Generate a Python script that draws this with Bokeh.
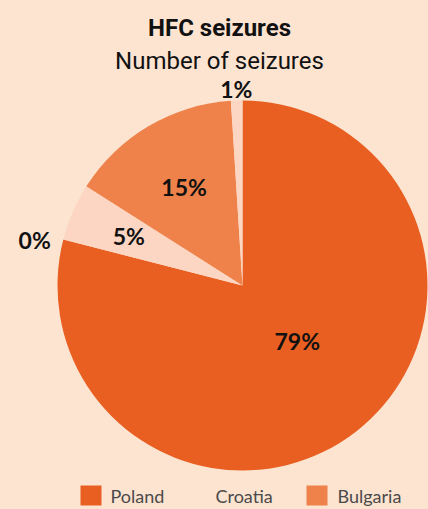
import numpy as np
from bokeh.plotting import figure
from bokeh.models import ColumnDataSource, Range1d
from bokeh.core.properties import value
from bokeh.embed import file_html
from bokeh.resources import INLINE

# ---- data ----
title = "HFC seizures"
subtitle = "Number of seizures"
slices = ["Poland", "Croatia", "Other", "Bulgaria", "Other 2"]
shares = [79, 0, 5, 15, 1]
slice_colors = ["#e85f21", "#fcd6c2", "#fcd6c2", "#ee824a", "#fcd6c2"]
legend_names = ["Poland", "Croatia", "Bulgaria"]
legend_colors = ["#e85f21", "#fde4d1", "#ee824a"]

# ---- styling / layout ----
BG = "#fde4d1"
W, H = 428, 509
LABEL_R = [0.42, 1.15, 0.67, 0.62, 1.065]
LABEL_DA = [7.0, 2.0, 0.0, 0.0, 0.0]  # degrees

def dx(xs):  # screen x -> data x
    return xs

def dy(ys):  # screen y -> data y
    return H - ys

CX, CY, R = dx(242), dy(285), 185

p = figure(width=W, height=H, output_backend="svg", toolbar_location=None,
           x_range=Range1d(0, W), y_range=Range1d(0, H), min_border=0,
           background_fill_color=BG, border_fill_color=BG, outline_line_color=None)
p.axis.visible = False
p.grid.visible = False

vals = np.array(shares, dtype=float)
frac = vals / vals.sum()
cum = np.concatenate([[0], np.cumsum(frac)])
start = np.pi / 2 - 2 * np.pi * cum[:-1]
end = np.pi / 2 - 2 * np.pi * cum[1:]
mid = (start + end) / 2 + np.radians(LABEL_DA)
lr = np.array(LABEL_R) * R

data = dict(
    name=slices, share=shares, start=start, end=end, color=slice_colors,
    lx=CX + lr * np.cos(mid), ly=CY + lr * np.sin(mid),
    label=[f"{v}%" for v in shares],
)
src = ColumnDataSource(data)
keep = [i for i, v in enumerate(shares) if v > 0]
wsrc = ColumnDataSource({k: [v[i] for i in keep] for k, v in data.items()})

p.wedge(x=CX, y=CY, radius=R, start_angle="start", end_angle="end",
        direction="clock", fill_color="color", line_color=None, source=wsrc)
p.text(x="lx", y="ly", text="label", source=src, text_align="center",
       text_baseline="middle", text_font=value("Lato"), text_font_style="bold",
       text_font_size="23px", text_color="#111111")

# titles
p.text(x=[dx(219)], y=[dy(27)], text=[title], text_align="center",
       text_baseline="alphabetic", text_font=value("Roboto"),
       text_font_style="bold", text_font_size="24px", text_color="#111111")
p.text(x=[dx(219)], y=[dy(60)], text=[subtitle], text_align="center",
       text_baseline="alphabetic", text_font=value("Roboto"),
       text_font_size="24px", text_color="#111111")

# legend
sw_x = [dx(90.5), dx(196), dx(316.5)]
tx_x = [dx(110), dx(215), dx(337)]
ly0 = dy(495)
p.rect(x=sw_x, y=[ly0] * 3, width=21, height=20, fill_color=legend_colors,
       line_color=None)
p.text(x=tx_x, y=[ly0] * 3, text=legend_names, text_align="left",
       text_baseline="middle", text_font=value("Lato"), text_font_size="18px",
       text_color="#4a4a4a")

html = file_html(p, INLINE)
html = html.replace("<head>", "<head><style>html,body{background:%s;}</style>" % BG, 1)
open("out.html", "w").write(html)
